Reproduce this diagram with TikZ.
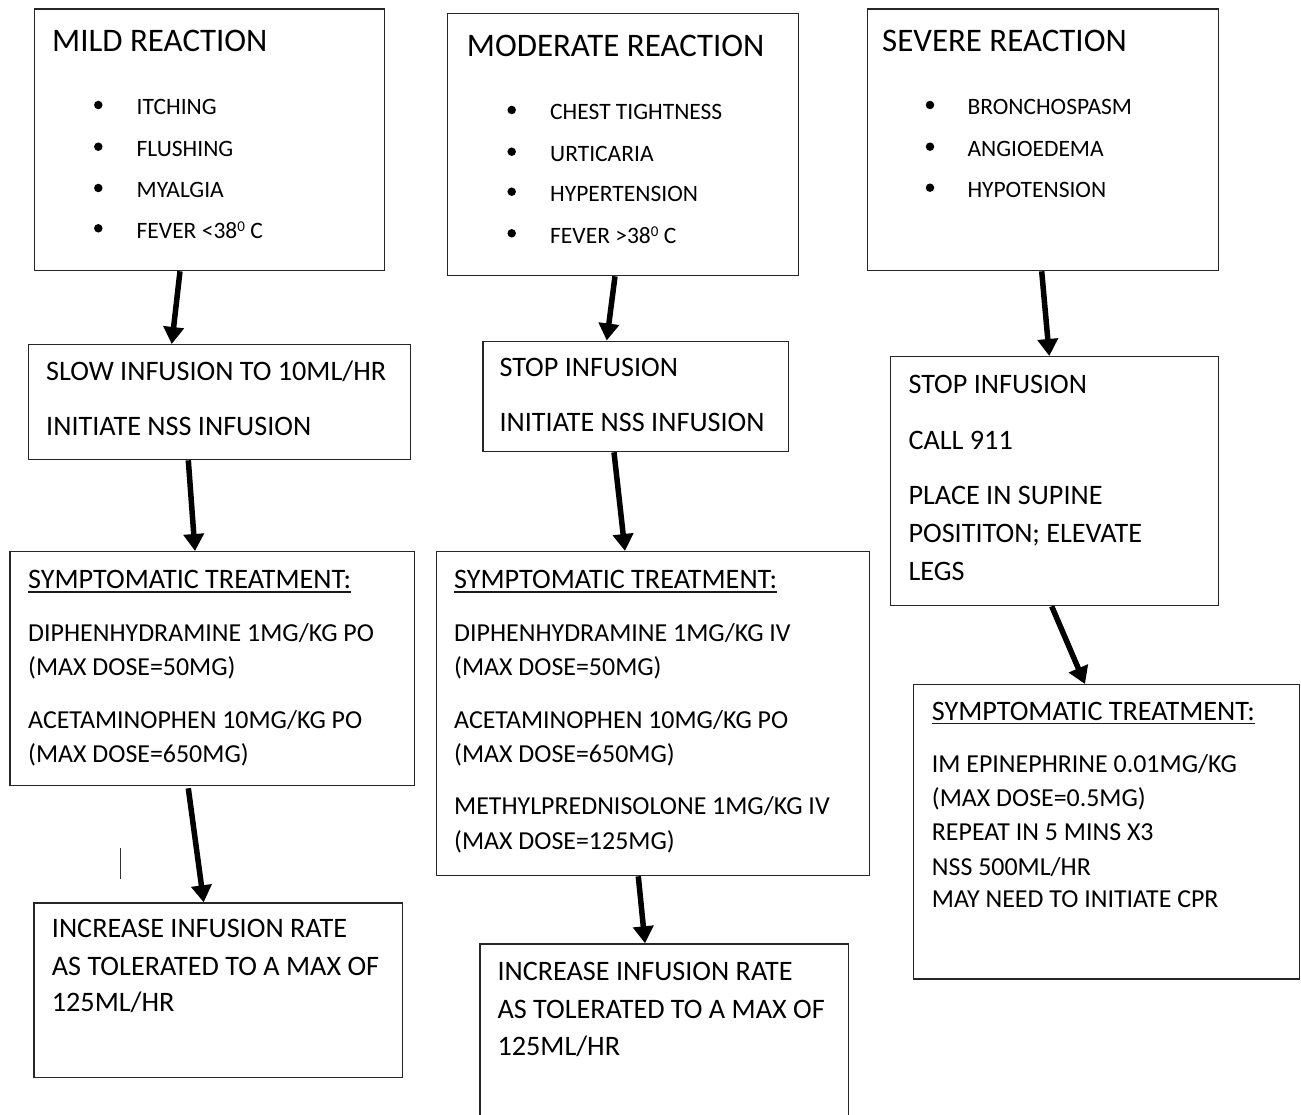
\documentclass[tikz,border=0pt]{standalone}
\usepackage{fontspec}
\setmainfont{Carlito}
\usetikzlibrary{arrows.meta,calc}
\begin{document}
\begin{tikzpicture}[x=1pt,y=-1pt,
  box/.style={draw=black!85,line width=1.3pt,anchor=north west,inner sep=0pt},
  ttl/.style={anchor=base west,inner sep=0pt,font=\fontsize{32.9}{39}\selectfont},
  itm/.style={anchor=base west,inner sep=0pt,font=\fontsize{23.5}{28}\selectfont},
  big/.style={anchor=base west,inner sep=0pt,font=\fontsize{28.2}{34}\selectfont},
  sml/.style={anchor=base west,inner sep=0pt,font=\fontsize{25.9}{31}\selectfont},
  dot/.style={circle,fill=black,inner sep=0pt,minimum size=8.5pt},
  arr/.style={line width=5.5pt,-{Triangle[width=20pt,length=17pt]}},
  uline/.style={line width=1.4pt,black!90}]
\useasboundingbox (0,0) rectangle (1301,1115);

% ---------- boxes ----------
\node[box,minimum width=350pt,minimum height=261.5pt] (b1) at (34,8.5) {};
\node[box,minimum width=351pt,minimum height=262.3pt] (b2) at (447,12.7) {};
\node[box,minimum width=351.5pt,minimum height=261.5pt] (b3) at (866.5,8.5) {};
\node[box,minimum width=382.5pt,minimum height=115pt] (b4) at (27.5,344) {};
\node[box,minimum width=305.7pt,minimum height=110.5pt] (b5) at (482.3,340.5) {};
\node[box,minimum width=328pt,minimum height=249pt] (b6) at (890,356) {};
\node[box,minimum width=404.7pt,minimum height=234pt] (b7) at (9.3,551) {};
\node[box,minimum width=433pt,minimum height=324pt] (b8) at (436,551) {};
\node[box,minimum width=386.3pt,minimum height=294.3pt] (b9) at (912.7,684) {};
\node[box,minimum width=368.4pt,minimum height=174.4pt] (b10) at (33.3,902.3) {};
\node[box,minimum width=368.4pt,minimum height=190pt] (b11) at (479.3,943.3) {};

% ---------- box 1: mild ----------
\node[ttl] (t1) at (52,51.7) {MILD REACTION};
\node[dot] (d1a) at (98.3,105) {};
\node[dot] (d1b) at (98.3,146.7) {};
\node[dot] (d1c) at (98.3,188) {};
\node[dot] (d1d) at (98.3,228.3) {};
\node[itm] (i1a) at (136.5,115) {ITCHING};
\node[itm] (i1b) at (136.5,156.7) {FLUSHING};
\node[itm] (i1c) at (136.5,198) {MYALGIA};
\node[itm] (i1d) at (136.5,238.3) {FEVER <38{\fontsize{15}{15}\selectfont\raisebox{7pt}{0}} C};

% ---------- box 2: moderate ----------
\node[ttl] (t2) at (466.7,56.7) {MODERATE REACTION};
\node[dot] (d2a) at (511.7,110) {};
\node[dot] (d2b) at (511.7,151.7) {};
\node[dot] (d2c) at (511.7,191.7) {};
\node[dot] (d2d) at (511.7,233.3) {};
\node[itm] (i2a) at (550,120) {CHEST TIGHTNESS};
\node[itm] (i2b) at (550,161.7) {URTICARIA};
\node[itm] (i2c) at (550,201.7) {HYPERTENSION};
\node[itm] (i2d) at (550,243.3) {FEVER >38{\fontsize{15}{15}\selectfont\raisebox{7pt}{0}} C};

% ---------- box 3: severe ----------
\node[ttl] (t3) at (882,51.7) {SEVERE REACTION};
\node[dot] (d3a) at (930,105) {};
\node[dot] (d3b) at (930,146.7) {};
\node[dot] (d3c) at (930,187.7) {};
\node[itm] (i3a) at (967.3,115) {BRONCHOSPASM};
\node[itm] (i3b) at (967.3,156.7) {ANGIOEDEMA};
\node[itm] (i3c) at (967.3,197.7) {HYPOTENSION};

% ---------- box 4 ----------
\node[big] (t4a) at (46,380.5) {SLOW INFUSION TO 10ML/HR};
\node[big] (t4b) at (46,435.5) {INITIATE NSS INFUSION};

% ---------- box 5 ----------
\node[big] (t5a) at (499.3,376.5) {STOP INFUSION};
\node[big] (t5b) at (499.3,431.5) {INITIATE NSS INFUSION};

% ---------- box 6 ----------
\node[big] (t6a) at (908.3,393) {STOP INFUSION};
\node[big] (t6b) at (908.3,449) {CALL 911};
\node[big] (t6c) at (908.3,504) {PLACE IN SUPINE};
\node[big] (t6d) at (908.3,542.5) {POSITITON; ELEVATE};
\node[big] (t6e) at (908.3,580) {LEGS};

% ---------- box 7 ----------
\node[big] (t7h) at (28,588.5) {SYMPTOMATIC TREATMENT:};
\draw[uline] ([yshift=-3.5pt]t7h.base west) -- ([yshift=-3.5pt]t7h.base east);
\node[sml] (t7a) at (28,641.5) {DIPHENHYDRAMINE 1MG/KG PO};
\node[sml] (t7b) at (28,675) {(MAX DOSE=50MG)};
\node[sml] (t7c) at (28,728) {ACETAMINOPHEN 10MG/KG PO};
\node[sml] (t7d) at (28,762.5) {(MAX DOSE=650MG)};

% ---------- box 8 ----------
\node[big] (t8h) at (454,588.5) {SYMPTOMATIC TREATMENT:};
\draw[uline] ([yshift=-3.5pt]t8h.base west) -- ([yshift=-3.5pt]t8h.base east);
\node[sml] (t8a) at (454,641.5) {DIPHENHYDRAMINE 1MG/KG IV};
\node[sml] (t8b) at (454,675) {(MAX DOSE=50MG)};
\node[sml] (t8c) at (454,728) {ACETAMINOPHEN 10MG/KG PO};
\node[sml] (t8d) at (454,762.5) {(MAX DOSE=650MG)};
\node[sml] (t8e) at (454,814) {METHYLPREDNISOLONE 1MG/KG IV};
\node[sml] (t8f) at (454,849) {(MAX DOSE=125MG)};

% ---------- box 9 ----------
\node[big] (t9h) at (931.7,720) {SYMPTOMATIC TREATMENT:};
\draw[uline] ([yshift=-3.5pt]t9h.base west) -- ([yshift=-3.5pt]t9h.base east);
\node[sml] (t9a) at (931.7,772) {IM EPINEPHRINE 0.01MG/KG};
\node[sml] (t9b) at (931.7,806) {(MAX DOSE=0.5MG)};
\node[sml] (t9c) at (931.7,840) {REPEAT IN 5 MINS X3};
\node[sml] (t9d) at (931.7,875) {NSS 500ML/HR};
\node[sml] (t9e) at (931.7,907) {MAY NEED TO INITIATE CPR};

% ---------- box 10 ----------
\node[big] (t10a) at (51.7,937.5) {INCREASE INFUSION RATE};
\node[big] (t10b) at (51.7,975.5) {AS TOLERATED TO A MAX OF};
\node[big] (t10c) at (51.7,1011.5) {125ML/HR};

% ---------- box 11 ----------
\node[big] (t11a) at (497.3,980) {INCREASE INFUSION RATE};
\node[big] (t11b) at (497.3,1018) {AS TOLERATED TO A MAX OF};
\node[big] (t11c) at (497.3,1055) {125ML/HR};

% ---------- arrows ----------
\draw[arr] ($(b1.south west)+(146,0)$) -- ($(b4.north west)+(144.2,0)$);
\draw[arr] ($(b2.south west)+(168,0)$) -- ($(b5.north west)+(124.4,0)$);
\draw[arr] ($(b3.south west)+(175.2,0)$) -- ($(b6.north west)+(159.3,0)$);
\draw[arr] ($(b4.south west)+(160.8,0)$) -- ($(b7.north west)+(185.7,0)$);
\draw[arr] ($(b5.south west)+(131.7,0)$) -- ($(b8.north west)+(189,0)$);
\draw[arr] ($(b6.south west)+(161.7,0)$) -- ($(b9.north west)+(172.3,0)$);
\draw[arr] ($(b7.south west)+(179,2)$) -- ($(b10.north west)+(170.4,0)$);
\draw[arr] ($(b8.south west)+(202.3,0)$) -- ($(b11.north west)+(165.7,0)$);

% stray cursor mark
\coordinate (c1) at (120.7,848);
\coordinate (c2) at (120.7,879);
\draw[line width=1.3pt,black!80] (c1) -- (c2);
\end{tikzpicture}
\end{document}
